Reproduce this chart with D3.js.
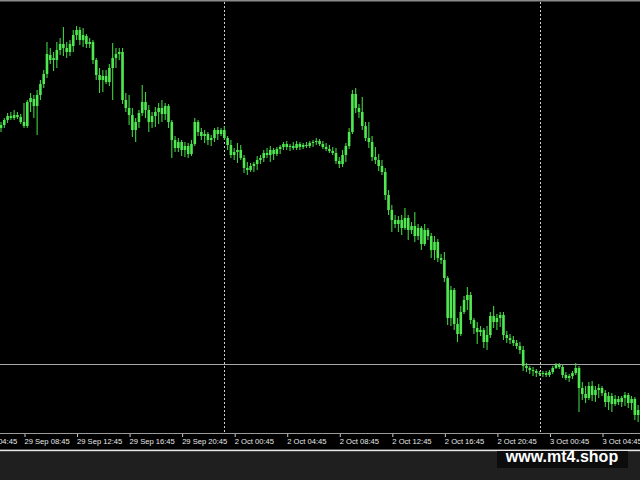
<!DOCTYPE html>
<html><head><meta charset="utf-8">
<script src="https://cdn.jsdelivr.net/npm/d3@7"></script>
<style>html,body{margin:0;padding:0;background:#000;overflow:hidden;} svg{display:block;}</style>
</head><body><svg id="c" width="640" height="480"></svg>
<script>
// EURUSD-like M15 candles
const open = [
1.17872,1.17875,1.17880,1.17884,1.17882,1.17885,1.17883,1.17878,1.17874,1.17898,
1.17901,1.17894,1.17905,1.17916,1.17926,1.17945,1.17940,1.17940,1.17950,1.17956,
1.17952,1.17948,1.17954,1.17965,1.17970,1.17960,1.17964,1.17956,1.17958,1.17940,
1.17925,1.17920,1.17924,1.17918,1.17932,1.17942,1.17946,1.17948,1.17900,1.17892,
1.17885,1.17870,1.17878,1.17887,1.17898,1.17890,1.17878,1.17884,1.17888,1.17892,
1.17886,1.17894,1.17878,1.17860,1.17852,1.17858,1.17850,1.17854,1.17846,1.17856,
1.17878,1.17868,1.17864,1.17866,1.17860,1.17862,1.17870,1.17866,1.17870,1.17862,
1.17855,1.17845,1.17848,1.17850,1.17842,1.17832,1.17830,1.17834,1.17836,1.17840,
1.17842,1.17847,1.17845,1.17850,1.17846,1.17851,1.17853,1.17856,1.17853,1.17854,
1.17852,1.17856,1.17853,1.17855,1.17854,1.17857,1.17858,1.17859,1.17856,1.17853,
1.17851,1.17849,1.17847,1.17839,1.17836,1.17845,1.17854,1.17868,1.17906,1.17892,
1.17888,1.17874,1.17862,1.17858,1.17843,1.17840,1.17834,1.17828,1.17805,1.17790,
1.17780,1.17776,1.17780,1.17772,1.17782,1.17770,1.17774,1.17764,1.17772,1.17756,
1.17770,1.17764,1.17750,1.17758,1.17742,1.17740,1.17722,1.17682,1.17710,1.17676,
1.17666,1.17688,1.17700,1.17705,1.17680,1.17672,1.17668,1.17670,1.17658,1.17665,
1.17684,1.17678,1.17682,1.17685,1.17665,1.17662,1.17660,1.17657,1.17654,1.17650,
1.17634,1.17632,1.17630,1.17629,1.17627,1.17626,1.17627,1.17625,1.17628,1.17632,
1.17635,1.17633,1.17625,1.17622,1.17624,1.17627,1.17632,1.17612,1.17606,1.17602,
1.17614,1.17605,1.17610,1.17612,1.17607,1.17598,1.17604,1.17596,1.17601,1.17598,
1.17602,1.17605,1.17597,1.17601,1.17585];
const high = [
1.17878,1.17882,1.17887,1.17888,1.17890,1.17888,1.17886,1.17897,1.17900,1.17907,
1.17905,1.17910,1.17920,1.17930,1.17958,1.17952,1.17948,1.17958,1.17962,1.17973,
1.17958,1.17960,1.17970,1.17974,1.17973,1.17972,1.17966,1.17962,1.17960,1.17942,
1.17932,1.17930,1.17930,1.17936,1.17957,1.17952,1.17952,1.17952,1.17907,1.17905,
1.17892,1.17882,1.17890,1.17915,1.17908,1.17895,1.17888,1.17893,1.17897,1.17900,
1.17897,1.17896,1.17880,1.17864,1.17862,1.17860,1.17858,1.17857,1.17860,1.17882,
1.17880,1.17872,1.17870,1.17868,1.17865,1.17872,1.17873,1.17872,1.17874,1.17864,
1.17860,1.17852,1.17857,1.17855,1.17845,1.17838,1.17837,1.17838,1.17844,1.17845,
1.17850,1.17852,1.17854,1.17852,1.17853,1.17855,1.17858,1.17859,1.17856,1.17858,
1.17859,1.17858,1.17857,1.17858,1.17859,1.17860,1.17862,1.17861,1.17859,1.17857,
1.17855,1.17853,1.17852,1.17843,1.17850,1.17857,1.17872,1.17910,1.17912,1.17896,
1.17903,1.17878,1.17878,1.17864,1.17853,1.17846,1.17840,1.17832,1.17810,1.17795,
1.17785,1.17784,1.17785,1.17792,1.17785,1.17778,1.17788,1.17776,1.17774,1.17776,
1.17772,1.17767,1.17764,1.17761,1.17746,1.17748,1.17724,1.17714,1.17712,1.17682,
1.17694,1.17704,1.17713,1.17708,1.17682,1.17678,1.17674,1.17672,1.17674,1.17688,
1.17694,1.17686,1.17688,1.17688,1.17669,1.17666,1.17664,1.17660,1.17658,1.17654,
1.17637,1.17634,1.17633,1.17631,1.17629,1.17629,1.17629,1.17630,1.17634,1.17637,
1.17637,1.17635,1.17628,1.17626,1.17629,1.17637,1.17634,1.17618,1.17614,1.17618,
1.17619,1.17614,1.17616,1.17614,1.17610,1.17608,1.17607,1.17605,1.17604,1.17604,
1.17608,1.17607,1.17604,1.17603,1.17595];
const low = [
1.17868,1.17872,1.17877,1.17880,1.17880,1.17881,1.17876,1.17872,1.17872,1.17888,
1.17882,1.17865,1.17900,1.17912,1.17922,1.17936,1.17929,1.17932,1.17945,1.17944,
1.17942,1.17944,1.17948,1.17960,1.17955,1.17953,1.17952,1.17952,1.17936,1.17920,
1.17907,1.17908,1.17916,1.17914,1.17900,1.17932,1.17940,1.17896,1.17888,1.17875,
1.17863,1.17858,1.17872,1.17884,1.17882,1.17868,1.17872,1.17873,1.17876,1.17878,
1.17880,1.17872,1.17842,1.17848,1.17848,1.17844,1.17843,1.17842,1.17844,1.17854,
1.17864,1.17860,1.17857,1.17855,1.17854,1.17858,1.17860,1.17864,1.17860,1.17850,
1.17842,1.17840,1.17837,1.17840,1.17827,1.17825,1.17828,1.17828,1.17830,1.17836,
1.17838,1.17842,1.17838,1.17840,1.17844,1.17846,1.17850,1.17850,1.17849,1.17850,
1.17850,1.17850,1.17851,1.17852,1.17852,1.17853,1.17855,1.17854,1.17851,1.17849,
1.17847,1.17845,1.17836,1.17832,1.17833,1.17838,1.17851,1.17866,1.17887,1.17882,
1.17870,1.17859,1.17852,1.17839,1.17836,1.17829,1.17825,1.17800,1.17785,1.17768,
1.17772,1.17768,1.17765,1.17770,1.17760,1.17766,1.17758,1.17760,1.17750,1.17754,
1.17760,1.17742,1.17740,1.17738,1.17736,1.17718,1.17675,1.17674,1.17670,1.17658,
1.17664,1.17686,1.17690,1.17676,1.17666,1.17656,1.17664,1.17652,1.17650,1.17662,
1.17672,1.17670,1.17673,1.17660,1.17657,1.17656,1.17654,1.17651,1.17646,1.17629,
1.17628,1.17626,1.17624,1.17623,1.17624,1.17623,1.17623,1.17623,1.17626,1.17631,
1.17631,1.17622,1.17620,1.17618,1.17621,1.17625,1.17588,1.17600,1.17597,1.17600,
1.17599,1.17598,1.17602,1.17604,1.17593,1.17590,1.17588,1.17594,1.17595,1.17593,
1.17594,1.17592,1.17590,1.17580,1.17578];
const close = [
1.17875,1.17880,1.17884,1.17882,1.17885,1.17883,1.17878,1.17874,1.17898,1.17902,
1.17894,1.17905,1.17916,1.17926,1.17946,1.17940,1.17942,1.17950,1.17956,1.17952,
1.17948,1.17956,1.17965,1.17970,1.17960,1.17965,1.17956,1.17958,1.17940,1.17925,
1.17920,1.17924,1.17918,1.17932,1.17942,1.17946,1.17948,1.17900,1.17892,1.17885,
1.17870,1.17878,1.17887,1.17898,1.17890,1.17878,1.17884,1.17888,1.17892,1.17886,
1.17894,1.17878,1.17860,1.17852,1.17858,1.17850,1.17854,1.17846,1.17856,1.17878,
1.17868,1.17864,1.17866,1.17860,1.17862,1.17870,1.17866,1.17870,1.17862,1.17855,
1.17845,1.17848,1.17850,1.17842,1.17832,1.17830,1.17834,1.17836,1.17840,1.17842,
1.17847,1.17845,1.17850,1.17846,1.17851,1.17853,1.17856,1.17853,1.17854,1.17852,
1.17856,1.17853,1.17855,1.17854,1.17857,1.17858,1.17859,1.17856,1.17853,1.17851,
1.17849,1.17847,1.17839,1.17836,1.17845,1.17854,1.17868,1.17906,1.17892,1.17888,
1.17874,1.17862,1.17858,1.17843,1.17840,1.17834,1.17828,1.17805,1.17790,1.17780,
1.17776,1.17780,1.17772,1.17782,1.17770,1.17774,1.17764,1.17772,1.17756,1.17770,
1.17764,1.17750,1.17758,1.17742,1.17740,1.17722,1.17682,1.17710,1.17676,1.17666,
1.17688,1.17700,1.17705,1.17680,1.17672,1.17668,1.17670,1.17658,1.17665,1.17684,
1.17678,1.17682,1.17685,1.17665,1.17662,1.17660,1.17657,1.17654,1.17650,1.17634,
1.17632,1.17630,1.17629,1.17627,1.17626,1.17627,1.17625,1.17628,1.17632,1.17635,
1.17633,1.17625,1.17622,1.17624,1.17627,1.17632,1.17612,1.17606,1.17602,1.17614,
1.17605,1.17610,1.17612,1.17607,1.17598,1.17604,1.17596,1.17601,1.17598,1.17602,
1.17605,1.17597,1.17601,1.17585,1.17590];

const tickBars = [-9, 7, 23, 39, 55, 71, 87, 103, 119, 135, 151, 167, 183];
const tickLabels = ["29 Sep 04:45","29 Sep 08:45","29 Sep 12:45","29 Sep 16:45","29 Sep 20:45",
  "2 Oct 00:45","2 Oct 04:45","2 Oct 08:45","2 Oct 12:45","2 Oct 16:45","2 Oct 20:45",
  "3 Oct 00:45","3 Oct 04:45"];
const separatorBars = [68, 164];
const levelPrice = 1.17636;
const watermarkText = "www.mt4.shop";

const W = 640, H = 480, plotBottom = 433;
const svg = d3.select("#c");

const x = d3.scaleLinear().domain([7, 183]).range([24, 602]);
const y = d3.scaleLinear().domain([1.17567, 1.18000]).range([plotBottom, 0]);

// backgrounds
svg.append("rect").attr("x",0).attr("y",0).attr("width",W).attr("height",H).attr("fill","#000");
svg.append("rect").attr("x",0).attr("y",451).attr("width",W).attr("height",H-451).attr("fill","#1f1f1f");
svg.append("rect").attr("x",0).attr("y",449.6).attr("width",W).attr("height",1.6).attr("fill","#e6e6e6");
svg.append("rect").attr("x",0).attr("y",0).attr("width",W).attr("height",1.5).attr("fill","#8a8a8a");

// period separators
svg.selectAll("line.sep").data(separatorBars).join("line")
  .attr("class","sep")
  .attr("x1", d => Math.round(x(d)) + 0.5).attr("x2", d => Math.round(x(d)) + 0.5)
  .attr("y1", 2).attr("y2", plotBottom)
  .attr("stroke", "#d0d0d0").attr("stroke-width", 1).attr("stroke-dasharray", "2,2");

// horizontal level
svg.append("line")
  .attr("x1", 0).attr("x2", W)
  .attr("y1", Math.round(y(levelPrice)) + 0.5).attr("y2", Math.round(y(levelPrice)) + 0.5)
  .attr("stroke", "#a8a8a8").attr("stroke-width", 1);

// candles
const idx = d3.range(open.length);
const g = svg.append("g");
g.selectAll("line.wick").data(idx).join("line")
  .attr("class","wick")
  .attr("x1", i => x(i)).attr("x2", i => x(i))
  .attr("y1", i => y(high[i])).attr("y2", i => y(low[i]))
  .attr("stroke", "#40d040").attr("stroke-width", 1.1);
const bw = 2.6;
g.selectAll("rect.body").data(idx).join("rect")
  .attr("class","body")
  .attr("x", i => x(i) - bw/2)
  .attr("width", bw)
  .attr("y", i => y(Math.max(open[i], close[i])))
  .attr("height", i => Math.max(1, Math.abs(y(open[i]) - y(close[i]))))
  .attr("fill", "#50e850");

// time axis
const axis = d3.axisBottom(x).tickValues(tickBars)
  .tickFormat((d, i) => tickLabels[i]).tickSize(4).tickSizeOuter(0);
const ax = svg.append("g").attr("transform", `translate(0,${plotBottom})`).call(axis);
ax.select(".domain").remove();
ax.selectAll(".tick line").attr("stroke", "#c8c8c8").attr("x1",0.5).attr("x2",0.5);
ax.selectAll(".tick text")
  .attr("text-anchor", "start").attr("x", 0).attr("y", 11).attr("dy", 0)
  .attr("fill", "#e8e8e8")
  .style("font-family", "'Liberation Sans', Arial, sans-serif").style("font-size", "7.6px");
svg.append("line").attr("x1",0).attr("x2",W).attr("y1",plotBottom+0.5).attr("y2",plotBottom+0.5)
  .attr("stroke","#9a9a9a").attr("stroke-width",1);

// watermark
svg.append("rect").attr("x",497).attr("y",451).attr("width",131).attr("height",17)
  .attr("fill","#0c0c0c");
svg.append("text").attr("x", 562).attr("y", 462).attr("text-anchor","middle")
  .attr("fill","#ffffff").style("font-family","'Liberation Sans', Arial, sans-serif")
  .style("font-weight","bold").style("font-size","16px").text(watermarkText);
</script></body></html>
